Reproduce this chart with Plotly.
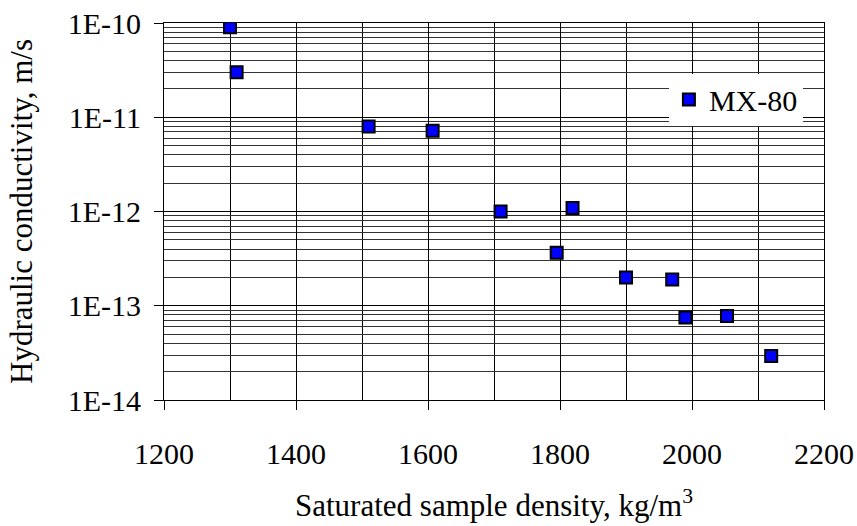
import plotly.graph_objects as go

density = [1300, 1310, 1510, 1607, 1710, 1795, 1819, 1900, 1970, 1990, 2053, 2120]
conductivity = [9.0e-11, 3.0e-11, 8.0e-12, 7.2e-12, 1.0e-12, 3.65e-13, 1.09e-12,
                2.0e-13, 1.9e-13, 7.5e-14, 7.8e-14, 2.93e-14]
series_name = "MX-80"

y_tickvals = [1e-14, 1e-13, 1e-12, 1e-11, 1e-10]
y_ticktext = ["1E-14", "1E-13", "1E-12", "1E-11", "1E-10"]
y_minor = [k * 10.0 ** e for e in range(-14, -10) for k in range(2, 10)]
x_tickvals = [1200, 1400, 1600, 1800, 2000, 2200]

FONT = "Liberation Serif, Times New Roman, serif"

fig = go.Figure()
fig.add_trace(go.Scatter(
    x=density, y=conductivity, mode="markers", name=series_name,
    marker=dict(symbol="square", size=12, color="#0000FF",
                line=dict(color="black", width=2)),
))

fig.update_layout(
    width=857, height=526,
    margin=dict(l=164, r=33, t=23, b=126, autoexpand=False),
    paper_bgcolor="white", plot_bgcolor="white",
    font=dict(family=FONT, size=30, color="black"),
    showlegend=True,
    legend=dict(x=0.765, xanchor="left", y=0.797, yanchor="middle",
                bgcolor="white", borderwidth=0, font=dict(size=30),
                itemwidth=30),
    xaxis=dict(
        range=[1200, 2200], tickmode="array", tickvals=x_tickvals,
        ticks="outside", ticklen=9, tickwidth=1, tickcolor="black",
        showline=True, linecolor="black", linewidth=1, mirror=True,
        showgrid=True, gridcolor="black", gridwidth=1, zeroline=False,
        minor=dict(dtick=100, showgrid=True, gridcolor="black", gridwidth=1, ticks=""),
        ticklabelstandoff=18, automargin=False,
        title=dict(text="Saturated sample density, kg/m<sup>3</sup>", standoff=25,
                   font=dict(size=31)),
    ),
    yaxis=dict(
        type="log", range=[-14, -10], tickmode="array",
        tickvals=y_tickvals, ticktext=y_ticktext,
        ticks="outside", ticklen=9, tickwidth=1, tickcolor="black",
        showline=True, linecolor="black", linewidth=1, mirror=True,
        showgrid=True, gridcolor="black", gridwidth=1, zeroline=False,
        minor=dict(tickmode="array", tickvals=y_minor, showgrid=True,
                   gridcolor="#333333", gridwidth=1, ticks=""),
        ticklabelstandoff=7, automargin=False,
        title=dict(text="Hydraulic conductivity, m/s", standoff=25,
                   font=dict(size=31)),
    ),
)

fig.write_html("out.html")
